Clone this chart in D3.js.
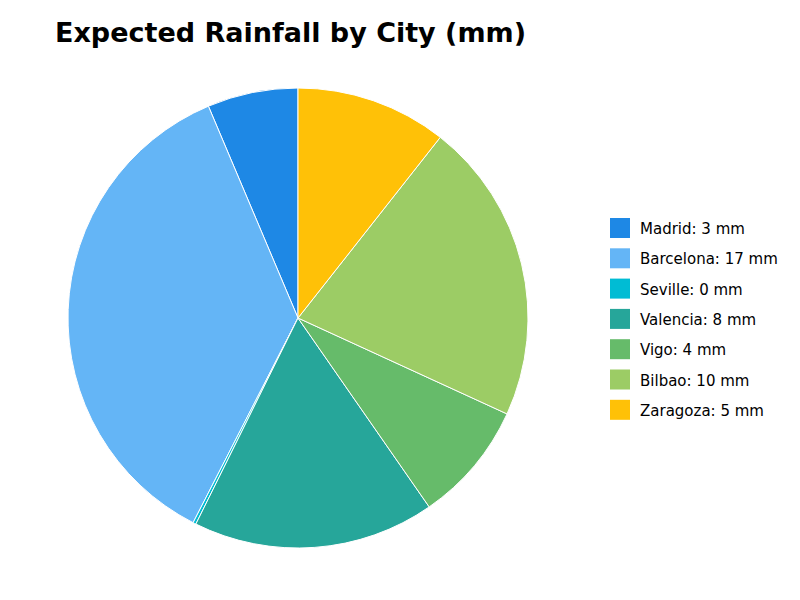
<!DOCTYPE html>
<html><head><meta charset="utf-8">
<script src="https://cdn.jsdelivr.net/npm/d3@7"></script>
<style>body{margin:0;background:#fff;font-family:"DejaVu Sans",sans-serif}</style>
</head><body><div id="chart"></div>
<script>
const cities = ["Madrid", "Barcelona", "Seville", "Valencia", "Vigo", "Bilbao", "Zaragoza"];
const rainfall = [3, 17, 0.1, 8, 4, 10, 5];
const colors = ["#1E88E5", "#64B5F6", "#00BCD4", "#26A69A", "#66BB6A", "#9CCC65", "#FFC107"];

const svg = d3.select("#chart").append("svg").attr("width", 800).attr("height", 600);

svg.append("text").attr("x", 55).attr("y", 42)
  .style("font-size", "27px").style("font-weight", "bold")
  .text("Expected Rainfall by City (mm)");

const pie = d3.pie().sort(null).startAngle(0).endAngle(-2 * Math.PI);
const arc = d3.arc().innerRadius(0).outerRadius(230);

const g = svg.append("g").attr("transform", "translate(298,318)");
g.selectAll("path").data(pie(rainfall)).enter().append("path")
  .attr("d", arc)
  .attr("fill", (d, i) => colors[i])
  .attr("stroke", "#fff").attr("stroke-width", 1);

const legend = svg.append("g").attr("transform", "translate(610,218)");
const item = legend.selectAll("g").data(cities).enter().append("g")
  .attr("transform", (d, i) => "translate(0," + i * 30.3 + ")");
item.append("rect").attr("width", 20).attr("height", 20).attr("fill", (d, i) => colors[i]);
item.append("text").attr("x", 30).attr("y", 16).style("font-size", "15px")
  .text((d, i) => d + ": " + Math.round(rainfall[i]) + " mm");
</script></body></html>
